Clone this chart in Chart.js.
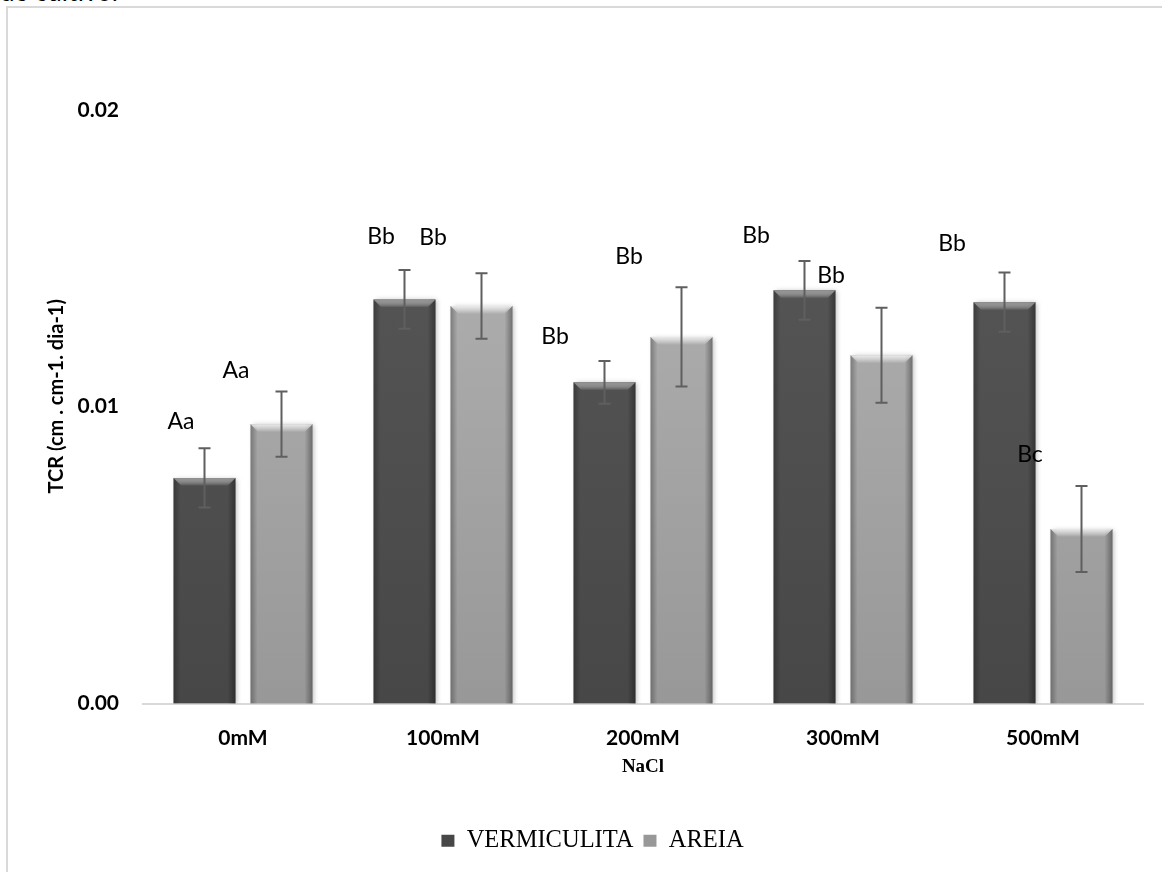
<!DOCTYPE html>
<html lang="pt">
<head>
<meta charset="utf-8">
<title>TCR - NaCl</title>
<script src="https://cdn.jsdelivr.net/npm/chart.js@4.4.1/dist/chart.umd.min.js"></script>
<style>
  html, body { margin: 0; padding: 0; background: #fff; overflow: hidden; }
  #pagina { position: relative; width: 1162px; height: 872px; overflow: hidden; }
  #texto-topo { position: absolute; left: 0px; top: -24px; font: 26px "Lato", sans-serif; line-height: 31px; color: #000; }
  #moldura { position: absolute; left: 6px; top: 6px; width: 1200px; height: 900px;
             border-left: 2px solid #d9d9d9; border-top: 2px solid #d9d9d9; }
  #caixa { position: absolute; left: 0; top: 0; width: 1162px; height: 872px; }
</style>
</head>
<body>
<div id="pagina">
  <div id="texto-topo">de cultivo.</div>
  <div id="moldura"></div>
  <div id="caixa"><canvas id="grafico"></canvas></div>
</div>
<script>
const categorias = ["0mM", "100mM", "200mM", "300mM", "500mM"];

const vermiculita = [0.0076, 0.01361, 0.01082, 0.01392, 0.01352];
const areia = [0.00941, 0.01339, 0.01235, 0.01173, 0.00588];

const erroVermiculita = [0.001, 0.00099, 0.00072, 0.00099, 0.001];
const erroAreia = [0.0011, 0.0011, 0.00167, 0.0016, 0.00145];

const ticksY = [0, 0.01, 0.02];

const letrasVermiculita = ["Aa", "Bb", "Bb", "Bb", "Bb"];
const letrasAreia = ["Aa", "Bb", "Bb", "Bb", "Bc"];

// onde cada letra fica, em unidades dos eixos (índice da categoria, valor de TCR)
const letraXVermiculita = [-0.31, 0.69, 1.56, 2.565, 3.545];
const letraYVermiculita = [0.00951, 0.01573, 0.01237, 0.01576, 0.0155];
const letraXAreia = [-0.035, 0.95, 1.93, 2.94, 3.935];
const letraYAreia = [0.01123, 0.0157, 0.01506, 0.01442, 0.0084];

function gradiente(topo, base) {
  return (context) => {
    const area = context.chart.chartArea;
    if (!area) {
      return base;
    }
    const g = context.chart.ctx.createLinearGradient(0, area.top, 0, area.bottom);
    g.addColorStop(0, topo);
    g.addColorStop(1, base);
    return g;
  };
}

/*
   sombra leve atrás das barras
*/
const sombra = {
  id: "sombra",
  beforeDatasetDraw(chart) {
    const ctx = chart.ctx;
    ctx.save();
    ctx.shadowColor = "rgba(0,0,0,0.28)";
    ctx.shadowBlur = 5;
    ctx.shadowOffsetX = 2;
    ctx.shadowOffsetY = 1;
  },
  afterDatasetDraw(chart) {
    chart.ctx.restore();
  },
};

/*
   legenda um pouco à direita, como no original
*/
const moverLegenda = {
  id: "moverLegenda",
  afterLayout(chart) {
    if (chart.legend) {
      chart.legend.left += 21;
      chart.legend.right += 21;
    }
  },
};

/*
   chanfro no topo e bordas escurecidas (efeito 3D)
*/
const chanfro = {
  id: "chanfro",
  afterDatasetsDraw(chart) {
    const ctx = chart.ctx;
    const claros = ["rgba(150,150,150,0.9)", "rgba(238,238,238,0.95)"];
    ctx.save();
    chart.data.datasets.forEach((ds, i) => {
      chart.getDatasetMeta(i).data.forEach((bar) => {
        const x0 = bar.x - bar.width / 2;
        const x1 = bar.x + bar.width / 2;
        const topo = bar.y;
        const base = bar.base;
        const b = 8;

        let g = ctx.createLinearGradient(x0, 0, x0 + 7, 0);
        g.addColorStop(0, "rgba(0,0,0,0.28)");
        g.addColorStop(1, "rgba(0,0,0,0)");
        ctx.fillStyle = g;
        ctx.fillRect(x0, topo, 7, base - topo);

        g = ctx.createLinearGradient(x1 - 8, 0, x1, 0);
        g.addColorStop(0, "rgba(0,0,0,0)");
        g.addColorStop(1, "rgba(0,0,0,0.35)");
        ctx.fillStyle = g;
        ctx.fillRect(x1 - 8, topo, 8, base - topo);

        g = ctx.createLinearGradient(0, topo, 0, topo + b);
        g.addColorStop(0, claros[i]);
        g.addColorStop(1, "rgba(255,255,255,0)");
        ctx.fillStyle = g;
        ctx.beginPath();
        ctx.moveTo(x0, topo);
        ctx.lineTo(x1, topo);
        ctx.lineTo(x1 - b, topo + b);
        ctx.lineTo(x0 + b, topo + b);
        ctx.closePath();
        ctx.fill();
      });
    });
    ctx.restore();
  },
};

/*
   barras de erro
*/
const barrasErro = {
  id: "barrasErro",
  afterDatasetsDraw(chart) {
    const ctx = chart.ctx;
    const escalaY = chart.scales.y;
    ctx.save();
    ctx.strokeStyle = "#5f5f5f";
    ctx.lineWidth = 2;
    chart.data.datasets.forEach((ds, i) => {
      chart.getDatasetMeta(i).data.forEach((bar, j) => {
        const v = ds.data[j];
        const e = ds.erro[j];
        const yTopo = escalaY.getPixelForValue(v + e);
        const yBase = escalaY.getPixelForValue(v - e);
        ctx.beginPath();
        ctx.moveTo(bar.x, yTopo);
        ctx.lineTo(bar.x, yBase);
        ctx.moveTo(bar.x - 6, yTopo);
        ctx.lineTo(bar.x + 6, yTopo);
        ctx.moveTo(bar.x - 6, yBase);
        ctx.lineTo(bar.x + 6, yBase);
        ctx.stroke();
      });
    });
    ctx.restore();
  },
};

/*
   letras do teste de médias
*/
const letras = {
  id: "letras",
  afterDatasetsDraw(chart) {
    const ctx = chart.ctx;
    const { x, y } = chart.scales;
    const grupos = [
      [letrasVermiculita, letraXVermiculita, letraYVermiculita],
      [letrasAreia, letraXAreia, letraYAreia],
    ];
    ctx.save();
    ctx.font = '23px "Lato", sans-serif';
    ctx.fillStyle = "#000";
    ctx.textAlign = "center";
    ctx.textBaseline = "middle";
    grupos.forEach(([textos, xs, ys]) => {
      textos.forEach((t, j) => {
        ctx.fillText(t, x.getPixelForValue(xs[j]), y.getPixelForValue(ys[j]));
      });
    });
    ctx.restore();
  },
};

new Chart(document.getElementById("grafico"), {
  type: "bar",
  data: {
    labels: categorias,
    datasets: [
      {
        label: "VERMICULITA",
        data: vermiculita,
        erro: erroVermiculita,
        backgroundColor: gradiente("#5a5a5a", "#474747"),
        borderWidth: 0,
        categoryPercentage: 0.77,
        barPercentage: 0.805,
      },
      {
        label: "AREIA",
        data: areia,
        erro: erroAreia,
        backgroundColor: gradiente("#b6b6b6", "#989898"),
        borderWidth: 0,
        categoryPercentage: 0.77,
        barPercentage: 0.805,
      },
    ],
  },
  options: {
    responsive: true,
    maintainAspectRatio: false,
    animation: false,
    layout: {
      padding: { top: 89, right: 19, bottom: 9, left: 0 },
    },
    scales: {
      x: {
        grid: { display: false, drawTicks: false },
        border: { color: "#d9d9d9", width: 2 },
        ticks: {
          color: "#000",
          padding: 22,
          font: { family: "Lato", weight: "bold", size: 21 },
        },
        title: {
          display: true,
          text: "NaCl",
          color: "#000",
          padding: { top: 0, bottom: 40 },
          font: { family: "Liberation Serif", weight: "bold", size: 19 },
        },
        afterFit(scale) {
          scale.height = 115;
        },
      },
      y: {
        min: 0,
        max: 0.0207,
        grid: { display: false, drawTicks: false },
        border: { display: false },
        ticks: {
          color: "#000",
          padding: 24,
          font: { family: "Lato", weight: "bold", size: 21 },
          callback: (v) => Number(v).toFixed(2),
        },
        afterBuildTicks(scale) {
          scale.ticks = ticksY.map((v) => ({ value: v }));
        },
        title: {
          display: true,
          text: "TCR (cm . cm-1. dia-1)",
          color: "#000",
          padding: { top: 45, bottom: 0 },
          font: { family: "Lato", weight: "bold", size: 20 },
        },
        afterFit(scale) {
          scale.width = 143;
        },
      },
    },
    plugins: {
      legend: {
        position: "bottom",
        labels: {
          color: "#000",
          boxWidth: 13,
          boxHeight: 12,
          padding: 10,
          font: { family: "Liberation Serif", size: 24.5 },
        },
      },
      tooltip: { enabled: false },
    },
  },
  plugins: [sombra, moverLegenda, chanfro, barrasErro, letras],
});
</script>
</body>
</html>
